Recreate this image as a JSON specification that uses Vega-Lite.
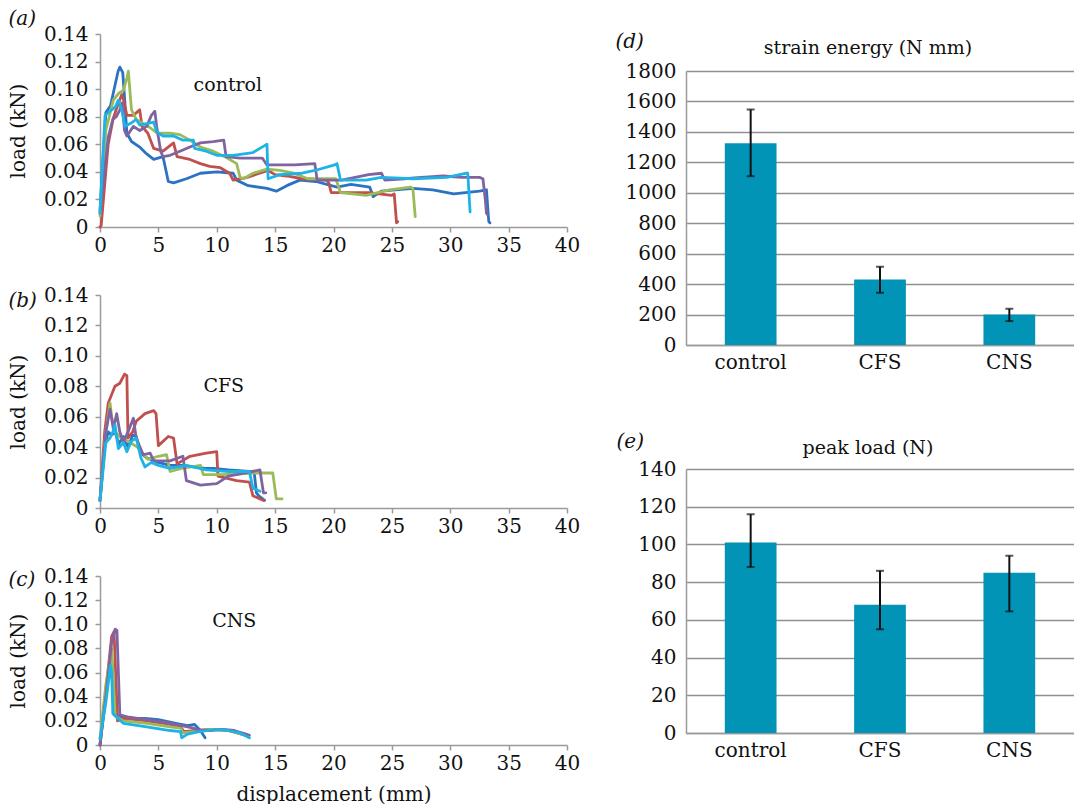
{
  "$schema": "https://vega.github.io/schema/vega-lite/v6.json",
  "background": "white",
  "padding": {"left": 8, "top": 9, "right": 0, "bottom": 0},
  "config": {
    "font": "DejaVu Serif",
    "view": {"stroke": null},
    "axis": {"labelFont": "DejaVu Serif", "labelFontSize": 20, "labelColor": "#111111", "titleFont": "DejaVu Serif", "titleFontSize": 20, "titleFontWeight": "normal", "titleColor": "#111111", "domainColor": "#9a9a9a", "domainWidth": 1.5, "tickColor": "#9a9a9a", "tickWidth": 1.5, "grid": false, "labelOverlap": false, "labelFlush": false, "tickCount": 30},
    "title": {"font": "DejaVu Serif", "fontSize": 20, "fontWeight": "normal", "color": "#111111"},
    "text": {"font": "DejaVu Serif"}
  },
  "datasets": {
    "ctrl": [
      {"s":"s1","d":0,"L":0.012},{"s":"s1","d":0.5,"L":0.083},{"s":"s1","d":0.9,"L":0.088},{"s":"s1","d":1.55,"L":0.113},{"s":"s1","d":1.7,"L":0.116},{"s":"s1","d":1.95,"L":0.112},{"s":"s1","d":2.1,"L":0.094},{"s":"s1","d":2.3,"L":0.068},{"s":"s1","d":2.7,"L":0.062},{"s":"s1","d":3.4,"L":0.058},{"s":"s1","d":4.0,"L":0.053},{"s":"s1","d":4.6,"L":0.049},{"s":"s1","d":5.4,"L":0.051},{"s":"s1","d":5.85,"L":0.033},{"s":"s1","d":6.3,"L":0.032},{"s":"s1","d":7.4,"L":0.035},{"s":"s1","d":8.6,"L":0.039},{"s":"s1","d":10,"L":0.04},{"s":"s1","d":11.4,"L":0.039},{"s":"s1","d":11.7,"L":0.034},{"s":"s1","d":12.7,"L":0.03},{"s":"s1","d":14.3,"L":0.028},{"s":"s1","d":15.1,"L":0.026},{"s":"s1","d":16,"L":0.03},{"s":"s1","d":17.1,"L":0.034},{"s":"s1","d":18.5,"L":0.033},{"s":"s1","d":20.3,"L":0.029},{"s":"s1","d":21.5,"L":0.031},{"s":"s1","d":23.1,"L":0.029},{"s":"s1","d":23.4,"L":0.022},{"s":"s1","d":24.1,"L":0.026},{"s":"s1","d":26.8,"L":0.028},{"s":"s1","d":28.5,"L":0.027},{"s":"s1","d":30.3,"L":0.024},{"s":"s1","d":32.5,"L":0.026},{"s":"s1","d":33.1,"L":0.027},{"s":"s1","d":33.3,"L":0.004},{"s":"s1","d":33.4,"L":0.003},
      {"s":"s2","d":0,"L":0},{"s":"s2","d":0.1,"L":0.001},{"s":"s2","d":0.7,"L":0.06},{"s":"s2","d":1.14,"L":0.079},{"s":"s2","d":1.5,"L":0.088},{"s":"s2","d":1.86,"L":0.096},{"s":"s2","d":2.0,"L":0.093},{"s":"s2","d":2.3,"L":0.081},{"s":"s2","d":2.85,"L":0.081},{"s":"s2","d":3.4,"L":0.085},{"s":"s2","d":3.6,"L":0.073},{"s":"s2","d":4.1,"L":0.068},{"s":"s2","d":4.6,"L":0.057},{"s":"s2","d":5.4,"L":0.055},{"s":"s2","d":6.3,"L":0.061},{"s":"s2","d":6.6,"L":0.051},{"s":"s2","d":7.7,"L":0.049},{"s":"s2","d":8.6,"L":0.046},{"s":"s2","d":9.4,"L":0.044},{"s":"s2","d":10.3,"L":0.043},{"s":"s2","d":11.1,"L":0.039},{"s":"s2","d":11.4,"L":0.034},{"s":"s2","d":12.6,"L":0.036},{"s":"s2","d":14.4,"L":0.041},{"s":"s2","d":15,"L":0.038},{"s":"s2","d":16,"L":0.037},{"s":"s2","d":17.3,"L":0.035},{"s":"s2","d":19.4,"L":0.034},{"s":"s2","d":19.6,"L":0.032},{"s":"s2","d":19.8,"L":0.025},{"s":"s2","d":21.5,"L":0.025},{"s":"s2","d":23,"L":0.025},{"s":"s2","d":25,"L":0.023},{"s":"s2","d":25.2,"L":0.024},{"s":"s2","d":25.4,"L":0.003},{"s":"s2","d":25.5,"L":0.004},
      {"s":"s3","d":0,"L":0.008},{"s":"s3","d":0.5,"L":0.07},{"s":"s3","d":1.14,"L":0.092},{"s":"s3","d":1.6,"L":0.097},{"s":"s3","d":2.0,"L":0.099},{"s":"s3","d":2.3,"L":0.108},{"s":"s3","d":2.43,"L":0.113},{"s":"s3","d":2.55,"L":0.1},{"s":"s3","d":2.7,"L":0.085},{"s":"s3","d":3.1,"L":0.078},{"s":"s3","d":3.7,"L":0.075},{"s":"s3","d":4.3,"L":0.072},{"s":"s3","d":4.9,"L":0.068},{"s":"s3","d":6.0,"L":0.068},{"s":"s3","d":6.85,"L":0.067},{"s":"s3","d":7.7,"L":0.063},{"s":"s3","d":8.6,"L":0.058},{"s":"s3","d":9.7,"L":0.055},{"s":"s3","d":10.9,"L":0.05},{"s":"s3","d":11.7,"L":0.046},{"s":"s3","d":12.0,"L":0.036},{"s":"s3","d":12.3,"L":0.035},{"s":"s3","d":13.1,"L":0.039},{"s":"s3","d":14.3,"L":0.042},{"s":"s3","d":15.4,"L":0.041},{"s":"s3","d":16.6,"L":0.039},{"s":"s3","d":17.8,"L":0.035},{"s":"s3","d":20.2,"L":0.035},{"s":"s3","d":20.6,"L":0.025},{"s":"s3","d":22.8,"L":0.023},{"s":"s3","d":24.8,"L":0.027},{"s":"s3","d":26.6,"L":0.029},{"s":"s3","d":26.8,"L":0.028},{"s":"s3","d":27.0,"L":0.0075},
      {"s":"s4","d":0,"L":0.01},{"s":"s4","d":0.7,"L":0.065},{"s":"s4","d":1.1,"L":0.078},{"s":"s4","d":1.4,"L":0.08},{"s":"s4","d":1.7,"L":0.085},{"s":"s4","d":1.9,"L":0.09},{"s":"s4","d":2.1,"L":0.07},{"s":"s4","d":2.3,"L":0.066},{"s":"s4","d":2.86,"L":0.073},{"s":"s4","d":3.4,"L":0.07},{"s":"s4","d":4.0,"L":0.073},{"s":"s4","d":4.4,"L":0.081},{"s":"s4","d":4.7,"L":0.084},{"s":"s4","d":4.85,"L":0.073},{"s":"s4","d":5.2,"L":0.055},{"s":"s4","d":5.4,"L":0.051},{"s":"s4","d":6.0,"L":0.052},{"s":"s4","d":6.85,"L":0.055},{"s":"s4","d":7.7,"L":0.058},{"s":"s4","d":8.6,"L":0.061},{"s":"s4","d":9.7,"L":0.062},{"s":"s4","d":10.6,"L":0.063},{"s":"s4","d":10.8,"L":0.051},{"s":"s4","d":12,"L":0.05},{"s":"s4","d":13.9,"L":0.05},{"s":"s4","d":14.3,"L":0.045},{"s":"s4","d":16,"L":0.045},{"s":"s4","d":16.7,"L":0.045},{"s":"s4","d":18.4,"L":0.046},{"s":"s4","d":18.6,"L":0.034},{"s":"s4","d":20.7,"L":0.034},{"s":"s4","d":23,"L":0.038},{"s":"s4","d":24.1,"L":0.039},{"s":"s4","d":24.4,"L":0.034},{"s":"s4","d":26.1,"L":0.035},{"s":"s4","d":27.5,"L":0.036},{"s":"s4","d":29.4,"L":0.037},{"s":"s4","d":31,"L":0.036},{"s":"s4","d":32.5,"L":0.036},{"s":"s4","d":32.8,"L":0.035},{"s":"s4","d":33.0,"L":0.02},{"s":"s4","d":33.1,"L":0.01},{"s":"s4","d":33.2,"L":0.009},
      {"s":"s5","d":0,"L":0.01},{"s":"s5","d":0.43,"L":0.081},{"s":"s5","d":1.0,"L":0.085},{"s":"s5","d":1.3,"L":0.087},{"s":"s5","d":1.57,"L":0.092},{"s":"s5","d":1.86,"L":0.085},{"s":"s5","d":2.14,"L":0.073},{"s":"s5","d":2.6,"L":0.075},{"s":"s5","d":3.1,"L":0.078},{"s":"s5","d":3.4,"L":0.074},{"s":"s5","d":4.0,"L":0.075},{"s":"s5","d":4.6,"L":0.076},{"s":"s5","d":4.85,"L":0.069},{"s":"s5","d":5.4,"L":0.066},{"s":"s5","d":6.3,"L":0.066},{"s":"s5","d":7.1,"L":0.063},{"s":"s5","d":8.0,"L":0.063},{"s":"s5","d":8.1,"L":0.057},{"s":"s5","d":9.1,"L":0.055},{"s":"s5","d":10,"L":0.052},{"s":"s5","d":11.4,"L":0.052},{"s":"s5","d":13.1,"L":0.054},{"s":"s5","d":14.1,"L":0.059},{"s":"s5","d":14.3,"L":0.06},{"s":"s5","d":14.4,"L":0.035},{"s":"s5","d":15.4,"L":0.038},{"s":"s5","d":17.3,"L":0.039},{"s":"s5","d":18.4,"L":0.041},{"s":"s5","d":20.1,"L":0.045},{"s":"s5","d":20.3,"L":0.046},{"s":"s5","d":20.6,"L":0.034},{"s":"s5","d":22.8,"L":0.034},{"s":"s5","d":24.1,"L":0.036},{"s":"s5","d":26.8,"L":0.035},{"s":"s5","d":29.7,"L":0.036},{"s":"s5","d":31.4,"L":0.039},{"s":"s5","d":31.5,"L":0.039},{"s":"s5","d":31.7,"L":0.011}
    ],
    "cfs": [
      {"s":"s1","d":0,"L":0.005},{"s":"s1","d":0.4,"L":0.04},{"s":"s1","d":0.7,"L":0.05},{"s":"s1","d":1.0,"L":0.048},{"s":"s1","d":1.3,"L":0.05},{"s":"s1","d":1.6,"L":0.042},{"s":"s1","d":2.0,"L":0.047},{"s":"s1","d":2.4,"L":0.04},{"s":"s1","d":2.8,"L":0.048},{"s":"s1","d":3.1,"L":0.047},{"s":"s1","d":3.5,"L":0.036},{"s":"s1","d":4.0,"L":0.033},{"s":"s1","d":5.0,"L":0.03},{"s":"s1","d":6.0,"L":0.028},{"s":"s1","d":7.0,"L":0.028},{"s":"s1","d":8.0,"L":0.027},{"s":"s1","d":9.0,"L":0.026},{"s":"s1","d":9.7,"L":0.026},{"s":"s1","d":11,"L":0.025},{"s":"s1","d":12.8,"L":0.024},{"s":"s1","d":13.2,"L":0.024},{"s":"s1","d":13.4,"L":0.01},{"s":"s1","d":13.6,"L":0.008},{"s":"s1","d":14.1,"L":0.005},
      {"s":"s2","d":0,"L":0.005},{"s":"s2","d":0.4,"L":0.05},{"s":"s2","d":0.71,"L":0.069},{"s":"s2","d":1.28,"L":0.08},{"s":"s2","d":1.7,"L":0.082},{"s":"s2","d":2.1,"L":0.088},{"s":"s2","d":2.3,"L":0.087},{"s":"s2","d":2.4,"L":0.046},{"s":"s2","d":2.8,"L":0.05},{"s":"s2","d":3.1,"L":0.057},{"s":"s2","d":3.85,"L":0.062},{"s":"s2","d":4.6,"L":0.064},{"s":"s2","d":4.8,"L":0.062},{"s":"s2","d":5.0,"L":0.041},{"s":"s2","d":5.85,"L":0.047},{"s":"s2","d":6.3,"L":0.046},{"s":"s2","d":6.6,"L":0.029},{"s":"s2","d":7.7,"L":0.034},{"s":"s2","d":9.1,"L":0.036},{"s":"s2","d":10,"L":0.037},{"s":"s2","d":10.1,"L":0.021},{"s":"s2","d":11.7,"L":0.018},{"s":"s2","d":12.8,"L":0.017},{"s":"s2","d":13.1,"L":0.008},{"s":"s2","d":14,"L":0.005},
      {"s":"s3","d":0,"L":0.005},{"s":"s3","d":0.5,"L":0.05},{"s":"s3","d":0.86,"L":0.069},{"s":"s3","d":1.0,"L":0.06},{"s":"s3","d":1.3,"L":0.05},{"s":"s3","d":1.8,"L":0.046},{"s":"s3","d":2.6,"L":0.043},{"s":"s3","d":3.2,"L":0.04},{"s":"s3","d":4.1,"L":0.032},{"s":"s3","d":5.0,"L":0.034},{"s":"s3","d":5.7,"L":0.035},{"s":"s3","d":6.0,"L":0.024},{"s":"s3","d":7.0,"L":0.026},{"s":"s3","d":8.6,"L":0.028},{"s":"s3","d":8.85,"L":0.022},{"s":"s3","d":10.5,"L":0.022},{"s":"s3","d":13.4,"L":0.023},{"s":"s3","d":14.8,"L":0.023},{"s":"s3","d":15.1,"L":0.006},{"s":"s3","d":15.6,"L":0.006},
      {"s":"s4","d":0,"L":0.005},{"s":"s4","d":0.5,"L":0.05},{"s":"s4","d":0.86,"L":0.065},{"s":"s4","d":1.14,"L":0.052},{"s":"s4","d":1.43,"L":0.062},{"s":"s4","d":1.7,"L":0.05},{"s":"s4","d":2.0,"L":0.043},{"s":"s4","d":2.5,"L":0.052},{"s":"s4","d":2.86,"L":0.059},{"s":"s4","d":3.1,"L":0.046},{"s":"s4","d":3.7,"L":0.035},{"s":"s4","d":4.3,"L":0.036},{"s":"s4","d":4.6,"L":0.031},{"s":"s4","d":6.0,"L":0.031},{"s":"s4","d":7.1,"L":0.034},{"s":"s4","d":7.4,"L":0.018},{"s":"s4","d":8.6,"L":0.015},{"s":"s4","d":10,"L":0.016},{"s":"s4","d":11.0,"L":0.021},{"s":"s4","d":11.7,"L":0.022},{"s":"s4","d":13.7,"L":0.025},{"s":"s4","d":14.0,"L":0.01},{"s":"s4","d":14.2,"L":0.01},
      {"s":"s5","d":0,"L":0.005},{"s":"s5","d":0.5,"L":0.043},{"s":"s5","d":0.86,"L":0.046},{"s":"s5","d":1.1,"L":0.05},{"s":"s5","d":1.28,"L":0.055},{"s":"s5","d":1.57,"L":0.039},{"s":"s5","d":2.0,"L":0.043},{"s":"s5","d":2.3,"L":0.037},{"s":"s5","d":2.7,"L":0.044},{"s":"s5","d":3.1,"L":0.046},{"s":"s5","d":3.5,"L":0.033},{"s":"s5","d":3.85,"L":0.027},{"s":"s5","d":4.4,"L":0.03},{"s":"s5","d":5.0,"L":0.028},{"s":"s5","d":6.0,"L":0.026},{"s":"s5","d":7.4,"L":0.028},{"s":"s5","d":9.1,"L":0.025},{"s":"s5","d":11,"L":0.024},{"s":"s5","d":12.8,"L":0.024},{"s":"s5","d":13.1,"L":0.013},{"s":"s5","d":13.7,"L":0.011}
    ],
    "cns": [
      {"s":"s1","d":0,"L":0},{"s":"s1","d":0.5,"L":0.045},{"s":"s1","d":1.0,"L":0.07},{"s":"s1","d":1.3,"L":0.025},{"s":"s1","d":2,"L":0.022},{"s":"s1","d":3,"L":0.022},{"s":"s1","d":3.85,"L":0.022},{"s":"s1","d":5,"L":0.021},{"s":"s1","d":6.5,"L":0.018},{"s":"s1","d":7.5,"L":0.016},{"s":"s1","d":8.1,"L":0.017},{"s":"s1","d":8.6,"L":0.012},{"s":"s1","d":9.0,"L":0.006},
      {"s":"s2","d":0,"L":0},{"s":"s2","d":0.5,"L":0.045},{"s":"s2","d":1.0,"L":0.09},{"s":"s2","d":1.2,"L":0.094},{"s":"s2","d":1.5,"L":0.02},{"s":"s2","d":2,"L":0.022},{"s":"s2","d":4,"L":0.02},{"s":"s2","d":6,"L":0.017},{"s":"s2","d":6.9,"L":0.015},{"s":"s2","d":7.2,"L":0.011},{"s":"s2","d":8,"L":0.012},{"s":"s2","d":9.5,"L":0.013},{"s":"s2","d":11,"L":0.012},{"s":"s2","d":12.5,"L":0.008},
      {"s":"s3","d":0,"L":0.005},{"s":"s3","d":0.5,"L":0.05},{"s":"s3","d":1.0,"L":0.08},{"s":"s3","d":1.3,"L":0.024},{"s":"s3","d":2,"L":0.02},{"s":"s3","d":4,"L":0.018},{"s":"s3","d":6,"L":0.015},{"s":"s3","d":6.9,"L":0.014},{"s":"s3","d":7.1,"L":0.01},{"s":"s3","d":8,"L":0.011},{"s":"s3","d":9.5,"L":0.013},{"s":"s3","d":11,"L":0.012},{"s":"s3","d":12.5,"L":0.008},
      {"s":"s4","d":0,"L":0},{"s":"s4","d":0.5,"L":0.04},{"s":"s4","d":1.0,"L":0.085},{"s":"s4","d":1.3,"L":0.096},{"s":"s4","d":1.45,"L":0.095},{"s":"s4","d":1.7,"L":0.025},{"s":"s4","d":2.5,"L":0.023},{"s":"s4","d":4,"L":0.021},{"s":"s4","d":5.5,"L":0.019},{"s":"s4","d":7,"L":0.016},{"s":"s4","d":8,"L":0.014},{"s":"s4","d":8.5,"L":0.012},{"s":"s4","d":9.5,"L":0.012},{"s":"s4","d":10.5,"L":0.013},{"s":"s4","d":11.5,"L":0.012},{"s":"s4","d":12.5,"L":0.009},{"s":"s4","d":12.8,"L":0.008},
      {"s":"s5","d":0,"L":0.005},{"s":"s5","d":0.5,"L":0.035},{"s":"s5","d":0.9,"L":0.066},{"s":"s5","d":1.0,"L":0.06},{"s":"s5","d":1.1,"L":0.026},{"s":"s5","d":2,"L":0.018},{"s":"s5","d":4,"L":0.015},{"s":"s5","d":6,"L":0.012},{"s":"s5","d":6.9,"L":0.011},{"s":"s5","d":7.0,"L":0.006},{"s":"s5","d":7.5,"L":0.009},{"s":"s5","d":8.5,"L":0.011},{"s":"s5","d":10,"L":0.013},{"s":"s5","d":11,"L":0.012},{"s":"s5","d":12,"L":0.01},{"s":"s5","d":12.8,"L":0.006}
    ],
    "se": [
      {"g":"control","v":1325,"lo":1109,"hi":1547},
      {"g":"CFS","v":431,"lo":343,"hi":514},
      {"g":"CNS","v":200,"lo":157,"hi":238}
    ],
    "pl": [
      {"g":"control","v":101,"lo":88,"hi":116},
      {"g":"CFS","v":68,"lo":55,"hi":86},
      {"g":"CNS","v":85,"lo":64.5,"hi":94}
    ]
  },
  "spacing": 35,
  "hconcat": [
    {
      "bounds": "flush",
      "spacing": 68,
      "vconcat": [
        {
          "width": 467, "height": 193,
          "title": {"text": "(a)", "anchor": "start", "frame": "bounds", "offset": -5, "fontStyle": "italic"},
          "layer": [
            {
              "data": {"name": "ctrl"},
              "mark": {"type": "line", "strokeWidth": 2.8, "strokeJoin": "round", "strokeCap": "round"},
              "encoding": {
                "x": {"field": "d", "type": "quantitative", "scale": {"domain": [0, 40], "nice": false}, "axis": {"values": [0,5,10,15,20,25,30,35,40], "tickCount": 30, "title": null, "tickSize": 5, "labelPadding": 3, "labelOverlap": false, "labelFlush": false}},
                "y": {"field": "L", "type": "quantitative", "scale": {"domain": [0, 0.14], "nice": false}, "axis": {"values": [0,0.02,0.04,0.06,0.08,0.1,0.12,0.14], "tickCount": 30, "labelExpr": "datum.value == 0 ? '0' : format(datum.value, '.2f')", "title": "load (kN)", "tickSize": 5, "labelPadding": 7, "titlePadding": 15, "labelOverlap": false}},
                "color": {"field": "s", "type": "nominal", "scale": {"domain": ["s1","s2","s3","s4","s5"], "range": ["#2c72c2","#c0504d","#9bbb59","#8064a2","#1eb3e6"]}, "legend": null}
              }
            },
            {
              "data": {"values": [{"lab": "control", "d": 10.95, "L": 0.103}]},
              "mark": {"type": "text", "fontSize": 19, "color": "#111111"},
              "encoding": {"x": {"field": "d", "type": "quantitative"}, "y": {"field": "L", "type": "quantitative"}, "text": {"field": "lab"}}
            }
          ]
        },
        {
          "width": 467, "height": 213,
          "title": {"text": "(b)", "anchor": "start", "frame": "bounds", "offset": -26, "fontStyle": "italic"},
          "layer": [
            {
              "data": {"name": "cfs"},
              "mark": {"type": "line", "strokeWidth": 2.8, "strokeJoin": "round", "strokeCap": "round"},
              "encoding": {
                "x": {"field": "d", "type": "quantitative", "scale": {"domain": [0, 40], "nice": false}, "axis": {"values": [0,5,10,15,20,25,30,35,40], "tickCount": 30, "title": null, "tickSize": 5, "labelPadding": 3, "labelOverlap": false, "labelFlush": false}},
                "y": {"field": "L", "type": "quantitative", "scale": {"domain": [0, 0.14], "nice": false}, "axis": {"values": [0,0.02,0.04,0.06,0.08,0.1,0.12,0.14], "tickCount": 30, "labelExpr": "datum.value == 0 ? '0' : format(datum.value, '.2f')", "title": "load (kN)", "tickSize": 5, "labelPadding": 7, "titlePadding": 15, "labelOverlap": false}},
                "color": {"field": "s", "type": "nominal", "scale": {"domain": ["s1","s2","s3","s4","s5"], "range": ["#2c72c2","#c0504d","#9bbb59","#8064a2","#1eb3e6"]}, "legend": null}
              }
            },
            {
              "data": {"values": [{"lab": "CFS", "d": 10.6, "L": 0.0805}]},
              "mark": {"type": "text", "fontSize": 19, "color": "#111111"},
              "encoding": {"x": {"field": "d", "type": "quantitative"}, "y": {"field": "L", "type": "quantitative"}, "text": {"field": "lab"}}
            }
          ]
        },
        {
          "width": 467, "height": 169,
          "title": {"text": "(c)", "anchor": "start", "frame": "bounds", "offset": -24, "fontStyle": "italic"},
          "layer": [
            {
              "data": {"name": "cns"},
              "mark": {"type": "line", "strokeWidth": 2.8, "strokeJoin": "round", "strokeCap": "round"},
              "encoding": {
                "x": {"field": "d", "type": "quantitative", "scale": {"domain": [0, 40], "nice": false}, "axis": {"values": [0,5,10,15,20,25,30,35,40], "tickCount": 30, "title": "displacement (mm)", "tickSize": 5, "labelPadding": 3, "titlePadding": 11, "labelOverlap": false, "labelFlush": false}},
                "y": {"field": "L", "type": "quantitative", "scale": {"domain": [0, 0.14], "nice": false}, "axis": {"values": [0,0.02,0.04,0.06,0.08,0.1,0.12,0.14], "tickCount": 30, "labelExpr": "datum.value == 0 ? '0' : format(datum.value, '.2f')", "title": "load (kN)", "tickSize": 5, "labelPadding": 7, "titlePadding": 15, "labelOverlap": false}},
                "color": {"field": "s", "type": "nominal", "scale": {"domain": ["s1","s2","s3","s4","s5"], "range": ["#2c72c2","#c0504d","#9bbb59","#8064a2","#1eb3e6"]}, "legend": null}
              }
            },
            {
              "data": {"values": [{"lab": "CNS", "d": 11.5, "L": 0.103}]},
              "mark": {"type": "text", "fontSize": 19, "color": "#111111"},
              "encoding": {"x": {"field": "d", "type": "quantitative"}, "y": {"field": "L", "type": "quantitative"}, "text": {"field": "lab"}}
            }
          ]
        }
      ]
    },
    {
      "bounds": "flush",
      "spacing": 30,
      "vconcat": [
        {"width": 388, "height": 7, "data": {"values": []}, "mark": {"type": "text"}},
        {
          "width": 388, "height": 274,
          "data": {"name": "se"},
          "title": {"text": "strain energy (N mm)", "dx": -12, "offset": -27, "fontSize": 19},
          "encoding": {
            "x": {"field": "g", "type": "nominal", "sort": null, "scale": {"paddingInner": 0.6, "paddingOuter": 0.3}, "axis": {"title": null, "labelAngle": 0, "ticks": false, "tickSize": 0, "labelPadding": 7}}
          },
          "layer": [
            {"mark": {"type": "bar", "color": "#0194b7"}, "encoding": {"y": {"field": "v", "type": "quantitative", "scale": {"domain": [0, 1800], "nice": false}, "axis": {"values": [0,200,400,600,800,1000,1200,1400,1600,1800], "tickCount": 30, "format": "d", "labelOverlap": false, "grid": true, "gridColor": "#8f8f8f", "gridWidth": 1.5, "ticks": false, "tickSize": 0, "labelPadding": 10, "title": "(d)", "titleAngle": 0, "titleX": -71, "titleY": -30, "titleAlign": "left", "titleBaseline": "middle", "titleFontStyle": "italic"}}}},
            {"mark": {"type": "rule", "color": "#111111", "strokeWidth": 2}, "encoding": {"y": {"field": "lo", "type": "quantitative"}, "y2": {"field": "hi"}}},
            {"mark": {"type": "tick", "color": "#111111", "thickness": 2, "size": 8}, "encoding": {"y": {"field": "lo", "type": "quantitative"}}},
            {"mark": {"type": "tick", "color": "#111111", "thickness": 2, "size": 8}, "encoding": {"y": {"field": "hi", "type": "quantitative"}}}
          ]
        },
        {"width": 388, "height": 64, "data": {"values": []}, "mark": {"type": "text"}},
        {
          "width": 388, "height": 264,
          "data": {"name": "pl"},
          "title": {"text": "peak load (N)", "dx": -12, "offset": -27, "fontSize": 19},
          "encoding": {
            "x": {"field": "g", "type": "nominal", "sort": null, "scale": {"paddingInner": 0.6, "paddingOuter": 0.3}, "axis": {"title": null, "labelAngle": 0, "ticks": false, "tickSize": 0, "labelPadding": 7}}
          },
          "layer": [
            {"mark": {"type": "bar", "color": "#0194b7"}, "encoding": {"y": {"field": "v", "type": "quantitative", "scale": {"domain": [0, 140], "nice": false}, "axis": {"values": [0,20,40,60,80,100,120,140], "tickCount": 30, "format": "d", "labelOverlap": false, "grid": true, "gridColor": "#8f8f8f", "gridWidth": 1.5, "ticks": false, "tickSize": 0, "labelPadding": 10, "title": "(e)", "titleAngle": 0, "titleX": -70, "titleY": -28, "titleAlign": "left", "titleBaseline": "middle", "titleFontStyle": "italic"}}}},
            {"mark": {"type": "rule", "color": "#111111", "strokeWidth": 2}, "encoding": {"y": {"field": "lo", "type": "quantitative"}, "y2": {"field": "hi"}}},
            {"mark": {"type": "tick", "color": "#111111", "thickness": 2, "size": 8}, "encoding": {"y": {"field": "lo", "type": "quantitative"}}},
            {"mark": {"type": "tick", "color": "#111111", "thickness": 2, "size": 8}, "encoding": {"y": {"field": "hi", "type": "quantitative"}}}
          ]
        }
      ]
    }
  ]
}
